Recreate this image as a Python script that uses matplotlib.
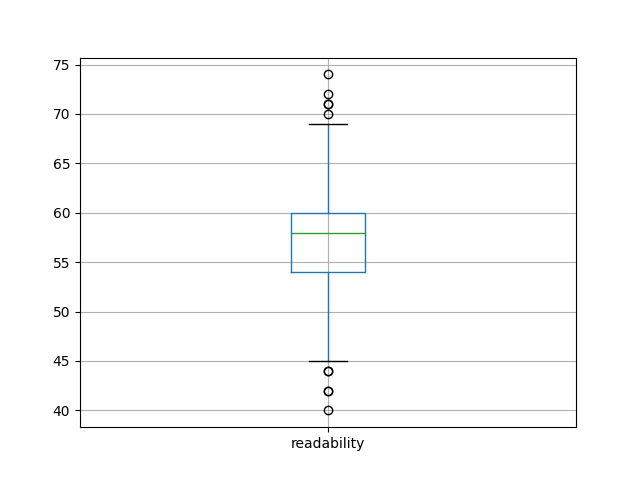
import matplotlib
matplotlib.use("Agg")
import matplotlib.pyplot as plt

labels = ["readability"]
q1 = [54]
median = [58]
q3 = [60]
whislo = [45]
whishi = [69]
fliers = [[70, 71, 71, 72, 74, 44, 44, 42, 42, 40]]

stats = []
for i, lab in enumerate(labels):
    stats.append(dict(label=lab, q1=q1[i], med=median[i], q3=q3[i],
                      whislo=whislo[i], whishi=whishi[i], fliers=fliers[i]))

fig, ax = plt.subplots(figsize=(6.4, 4.8), dpi=100)
ax.bxp(stats,
       boxprops=dict(color="#1f77b4"),
       whiskerprops=dict(color="#1f77b4"),
       medianprops=dict(color="#2ca02c"),
       capprops=dict(color="black"),
       flierprops=dict(marker="o", markeredgecolor="black", markerfacecolor="none"))
ax.grid(True)
fig.savefig("out.png")
